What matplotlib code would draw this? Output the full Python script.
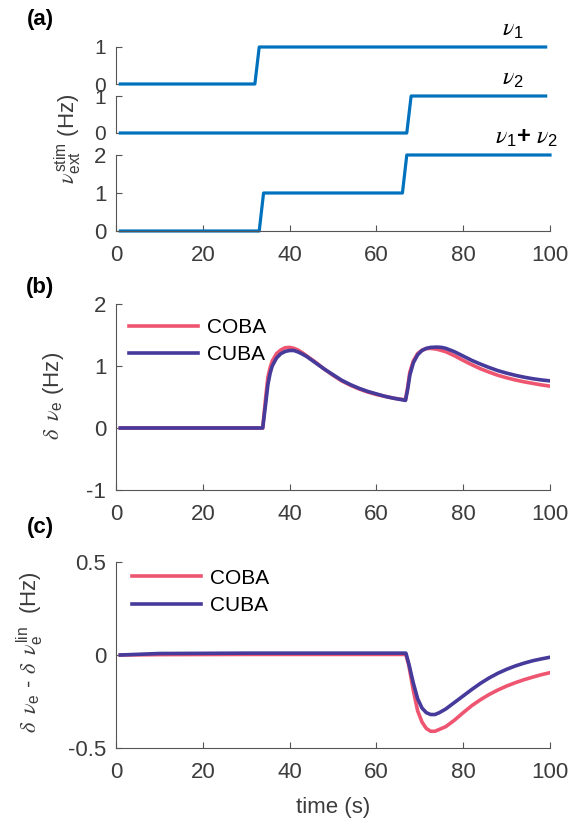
import matplotlib
matplotlib.use('Agg')
import matplotlib.pyplot as plt

plt.rcParams['font.family'] = ['Liberation Sans', 'DejaVu Sans']
plt.rcParams['mathtext.fontset'] = 'custom'
plt.rcParams['mathtext.rm'] = 'Liberation Sans'
plt.rcParams['mathtext.sf'] = 'Liberation Sans'
plt.rcParams['mathtext.it'] = 'STIXGeneral:italic'
plt.rcParams['mathtext.bf'] = 'Liberation Sans:bold'

# (a) stimulus steps
t_nu1 = [1, 32, 33, 99]
nu1 = [0, 0, 1, 1]
t_nu2 = [1, 67, 68, 99]
nu2 = [0, 0, 1, 1]
t_sum = [1, 33, 34, 66, 67, 100]
nu_sum = [0, 0, 1, 1, 2, 2]

# (b) firing-rate response
t_b = [1, 33.8, 34.5, 35, 35.5, 36, 37, 38, 39, 40, 41, 42, 43, 44, 45, 46, 48, 50,
       52, 54, 56, 58, 60, 62, 64, 66.7, 67.2, 67.7, 68.5, 69.5, 70.5, 71.5, 72.5,
       74, 75, 76, 78, 80, 82, 84, 86, 88, 90, 92, 94, 96, 98, 100]
coba_b = [0, 0, 0.50, 0.82, 0.97, 1.08, 1.20, 1.26, 1.295, 1.30, 1.285, 1.255, 1.21,
          1.16, 1.11, 1.06, 0.95, 0.85, 0.76, 0.69, 0.63, 0.58, 0.54, 0.51, 0.48, 0.455,
          0.66, 0.90, 1.08, 1.20, 1.255, 1.28, 1.285, 1.27, 1.25, 1.23, 1.165, 1.09,
          1.02, 0.955, 0.90, 0.85, 0.81, 0.775, 0.745, 0.72, 0.695, 0.675]
cuba_b = [0, 0, 0.40, 0.70, 0.88, 1.00, 1.13, 1.20, 1.235, 1.25, 1.25, 1.225, 1.19,
          1.15, 1.10, 1.05, 0.95, 0.86, 0.77, 0.70, 0.64, 0.59, 0.55, 0.51, 0.48, 0.445,
          0.62, 0.85, 1.05, 1.18, 1.25, 1.285, 1.30, 1.305, 1.30, 1.285, 1.23, 1.16,
          1.09, 1.03, 0.975, 0.925, 0.885, 0.85, 0.82, 0.795, 0.775, 0.76]

# (c) deviation from linear sum
t_c = [1, 10, 30, 66.8, 67.5, 68.5, 69.5, 70.5, 71.5, 72.5, 73.5, 74.5, 76, 78, 80,
       82, 84, 86, 88, 90, 92, 94, 96, 98, 100]
coba_c = [0, 0.002, 0.003, 0.003, -0.06, -0.19, -0.30, -0.36, -0.395, -0.41, -0.41,
          -0.40, -0.385, -0.35, -0.31, -0.272, -0.24, -0.212, -0.188, -0.167, -0.149,
          -0.133, -0.119, -0.106, -0.095]
cuba_c = [0, 0.008, 0.01, 0.01, -0.05, -0.15, -0.235, -0.285, -0.31, -0.32, -0.32,
          -0.31, -0.29, -0.255, -0.22, -0.185, -0.152, -0.123, -0.098, -0.077, -0.059,
          -0.044, -0.031, -0.021, -0.012]

xticks = [0, 20, 40, 60, 80, 100]

c_stim = '#0072BD'
c_coba = '#EE5570'
c_cuba = '#463A9B'
c_axis = '#555555'
c_text = '#3c3c3c'

fig = plt.figure(figsize=(5.73, 8.24), dpi=100)
W, H = 573.0, 824.0
x0, x1 = 116, 550


def make_ax(top, bottom):
    return fig.add_axes([x0 / W, 1 - bottom / H, (x1 - x0) / W, (bottom - top) / H])


def style(ax, bottom_axis=True):
    for s in ['top', 'right']:
        ax.spines[s].set_visible(False)
    ax.spines['left'].set_color(c_axis)
    ax.spines['bottom'].set_color(c_axis)
    ax.spines['bottom'].set_visible(bottom_axis)
    ax.tick_params(direction='in', length=4, width=0.8, color=c_axis,
                   labelcolor=c_text, labelsize=16)
    ax.tick_params(axis='y', pad=7)
    ax.tick_params(axis='x', pad=10)
    ax.set_xlim(0, 100)
    ax.patch.set_alpha(0)
    if bottom_axis:
        ax.set_xticks(xticks)
    else:
        ax.set_xticks([])
        # the short stacked panels get slightly smaller numbers
        ax.tick_params(axis='y', labelsize=15)


lw = 2.3
a1 = make_ax(47, 84)
a1.plot(t_nu1, nu1, color=c_stim, lw=lw, clip_on=False)
a1.set_ylim(0, 1)
a1.set_yticks([0, 1])
style(a1, False)
a1.text(91.5, 1.45, r'$\nu_{\rm 1}$', fontsize=17, ha='center', va='center')

a2 = make_ax(96, 133)
a2.plot(t_nu2, nu2, color=c_stim, lw=lw, clip_on=False)
a2.set_ylim(0, 1)
a2.set_yticks([0, 1])
style(a2, False)
a2.text(91.5, 1.45, r'$\nu_{\rm 2}$', fontsize=17, ha='center', va='center')

a3 = make_ax(155, 231)
a3.plot(t_sum, nu_sum, color=c_stim, lw=lw, clip_on=False)
a3.set_ylim(0, 2)
a3.set_yticks([0, 1, 2])
style(a3, True)
a3.text(94.5, 2.45, r'$\nu_{\rm 1}$$\mathbf{+}$ $\nu_{\rm 2}$', fontsize=17,
        ha='center', va='center')

fig.text(68 / W, 1 - 139 / H, r'$\nu_{\rm ext}^{\rm stim}$ (Hz)', rotation=90,
         ha='center', va='center', fontsize=16, color=c_text)

lw2 = 2.6
leg_kw = dict(loc='upper left', frameon=False, fontsize=15, handlelength=3.3,
              handletextpad=0.45, labelspacing=0.4, borderpad=0, borderaxespad=0)

b = make_ax(304, 490)
b.plot(t_b, coba_b, color=c_coba, lw=lw2, label='COBA')
b.plot(t_b, cuba_b, color=c_cuba, lw=lw2, label='CUBA')
b.set_ylim(-1, 2)
b.set_yticks([-1, 0, 1, 2])
b.set_yticklabels(['-1', '0', '1', '2'])
style(b, True)
b.legend(bbox_to_anchor=(0.03, 0.925), **leg_kw)
fig.text(53 / W, 1 - 396 / H, r'$\delta\;\;\nu_{\rm e}$ (Hz)', rotation=90,
         ha='center', va='center', fontsize=16, color=c_text)

c = make_ax(562, 748)
c.plot(t_c, coba_c, color=c_coba, lw=lw2, label='COBA')
c.plot(t_c, cuba_c, color=c_cuba, lw=lw2, label='CUBA')
c.set_ylim(-0.5, 0.5)
c.set_yticks([-0.5, 0, 0.5])
c.set_yticklabels(['-0.5', '0', '0.5'])
style(c, True)
c.legend(bbox_to_anchor=(0.037, 0.965), **leg_kw)
fig.text(30 / W, 1 - 652 / H,
         r'$\delta\;\;\nu_{\rm e}$ - $\delta\;\;\nu_{\rm e}^{\rm lin}$  (Hz)',
         rotation=90, ha='center', va='center', fontsize=16, color=c_text)
fig.text(333 / W, 1 - 807 / H, 'time (s)', ha='center', va='center', fontsize=16,
         color=c_text)

for lab, yy in [('(a)', 20), ('(b)', 287), ('(c)', 527)]:
    fig.text(40 / W, 1 - yy / H, lab, ha='center', va='center', fontsize=16,
             fontweight='bold')

fig.savefig('out.png', dpi=100)
